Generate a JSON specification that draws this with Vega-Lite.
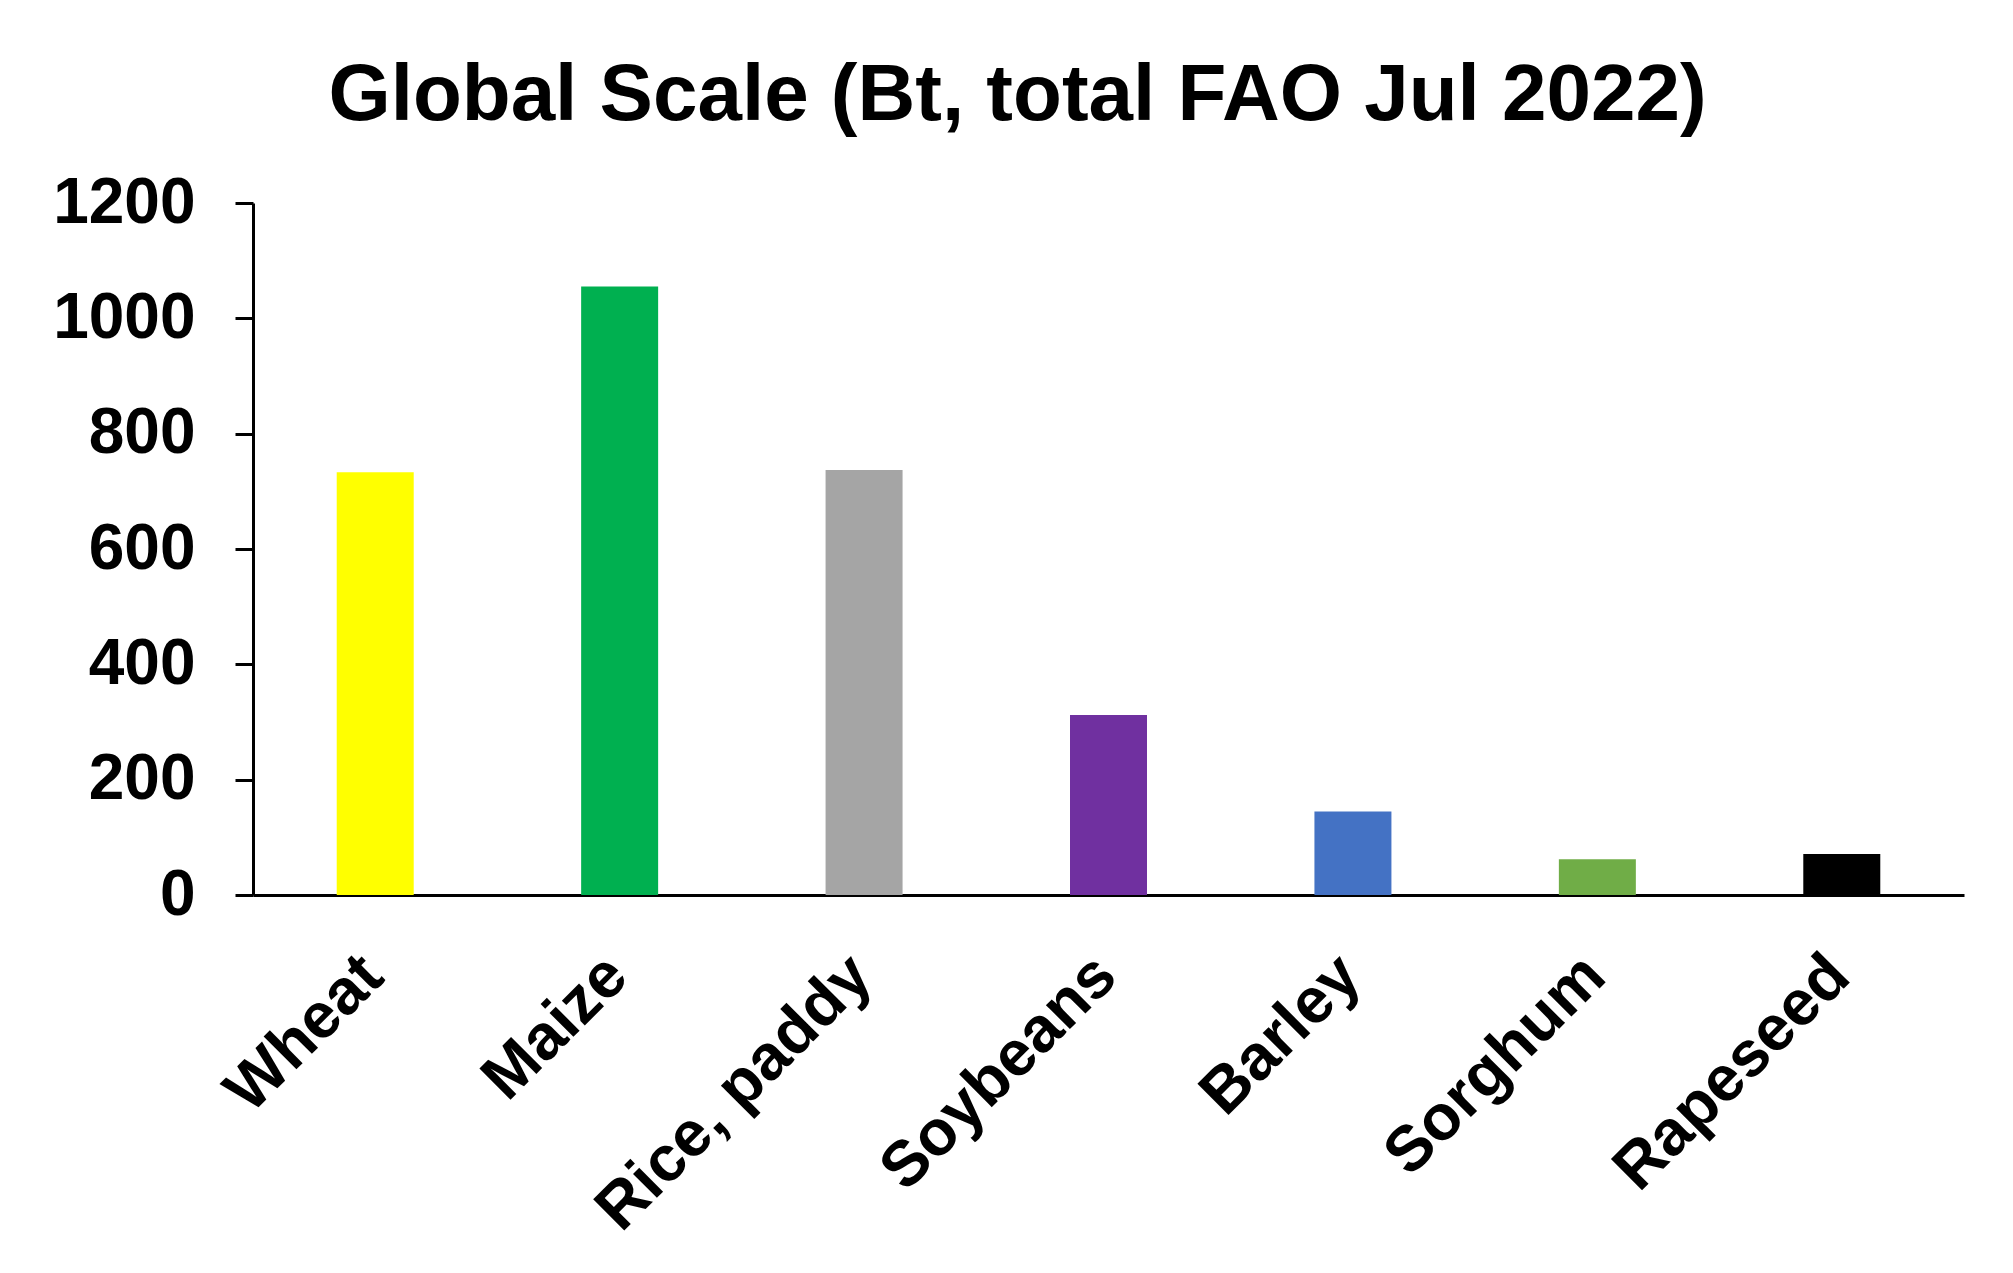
{
  "$schema": "https://vega.github.io/schema/vega-lite/v6.json",
  "autosize": {"type": "none"},
  "padding": {"left": 253, "top": 203, "right": 49, "bottom": 378},
  "width": 1711,
  "height": 692,
  "background": "white",
  "title": {
    "text": "Global Scale (Bt, total FAO Jul 2022)",
    "font": "Liberation Sans",
    "fontWeight": "bold",
    "fontSize": 80,
    "color": "black",
    "anchor": "middle",
    "dx": -91,
    "offset": 34
  },
  "data": {
    "values": [
      {"crop": "Wheat", "value": 733},
      {"crop": "Maize", "value": 1055},
      {"crop": "Rice, paddy", "value": 737},
      {"crop": "Soybeans", "value": 312},
      {"crop": "Barley", "value": 145},
      {"crop": "Sorghum", "value": 62},
      {"crop": "Rapeseed", "value": 71}
    ]
  },
  "mark": {"type": "bar"},
  "encoding": {
    "x": {
      "field": "crop",
      "type": "nominal",
      "sort": null,
      "scale": {"paddingInner": 0.685, "paddingOuter": 0.3425},
      "axis": {
        "title": null,
        "labelAngle": -45,
        "labelFont": "Liberation Sans",
        "labelFontWeight": "bold",
        "labelFontSize": 64,
        "labelColor": "black",
        "ticks": false,
        "labelPadding": 48,
        "labelOffset": -25,
        "domainColor": "black",
        "domainWidth": 3,
        "labelOverlap": false,
        "labelLimit": 1000
      }
    },
    "y": {
      "field": "value",
      "type": "quantitative",
      "scale": {"domain": [0, 1200], "nice": false},
      "axis": {
        "title": null,
        "values": [0, 200, 400, 600, 800, 1000, 1200],
        "format": "d",
        "grid": false,
        "labelFont": "Liberation Sans",
        "labelFontWeight": "bold",
        "labelFontSize": 64,
        "labelColor": "black",
        "tickColor": "black",
        "tickWidth": 3,
        "tickSize": 18,
        "labelPadding": 40,
        "domainColor": "black",
        "domainWidth": 3
      }
    },
    "color": {
      "field": "crop",
      "type": "nominal",
      "legend": null,
      "scale": {
        "domain": ["Wheat", "Maize", "Rice, paddy", "Soybeans", "Barley", "Sorghum", "Rapeseed"],
        "range": ["#FFFF00", "#00B050", "#A5A5A5", "#7030A0", "#4472C4", "#70AD47", "#000000"]
      }
    }
  },
  "config": {"view": {"stroke": null}}
}
